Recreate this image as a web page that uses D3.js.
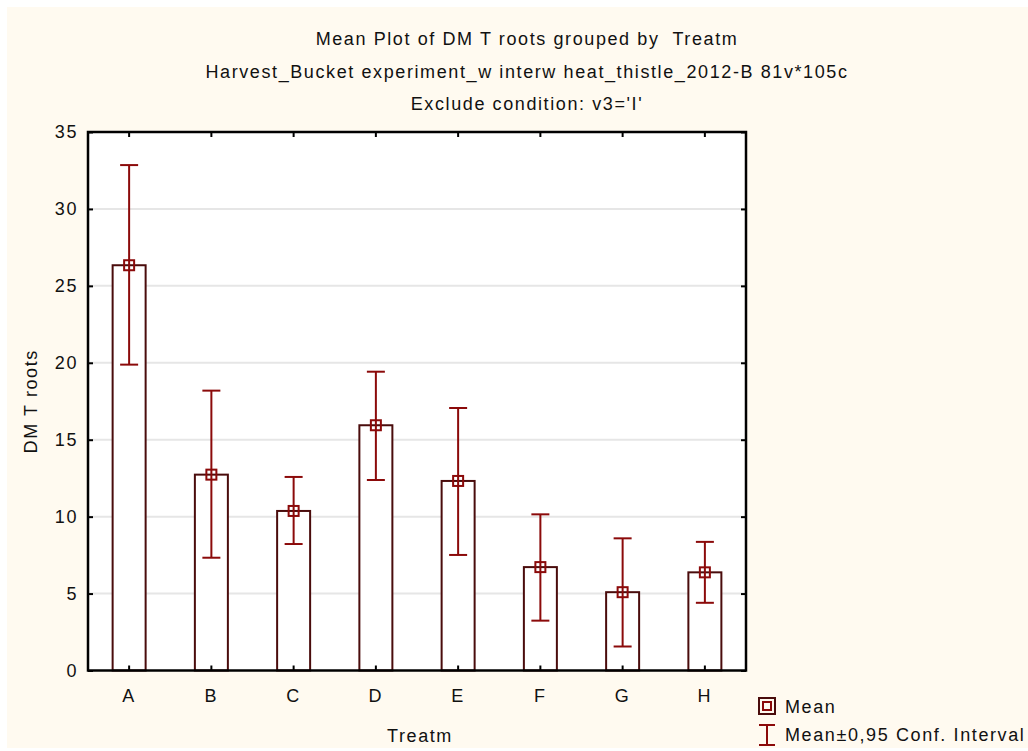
<!DOCTYPE html>
<html>
<head>
<meta charset="utf-8">
<script src="https://cdn.jsdelivr.net/npm/d3@7"></script>
<style>
  body { margin: 0; background: #ffffff; }
  text { font-family: "Liberation Sans", Arial, sans-serif; fill: #111; letter-spacing: 1.6px; }
</style>
</head>
<body>
<div id="chart"></div>
<script>
// values
const treatments = ["A", "B", "C", "D", "E", "F", "G", "H"];
const means = [26.34, 12.73, 10.37, 15.94, 12.32, 6.72, 5.09, 6.38];
const upperCI = [32.85, 18.19, 12.58, 19.42, 17.06, 10.15, 8.59, 8.36];
const lowerCI = [19.88, 7.33, 8.22, 12.38, 7.51, 3.24, 1.56, 4.40];
const yTicks = [0, 5, 10, 15, 20, 25, 30, 35];
const titleLines = [
  "Mean Plot of DM T roots grouped by  Treatm",
  "Harvest_Bucket experiment_w interw heat_thistle_2012-B 81v*105c",
  "Exclude condition: v3='I'"
];

const width = 1028, height = 751;
const margin = {top: 132, right: 282, bottom: 80.5, left: 88};
const fs = 18;

const barColor = "#4a0c0c";
const errColor = "#8b0a0a";

const svg = d3.select("#chart").append("svg")
  .attr("width", width).attr("height", height);

svg.append("rect").attr("x", 7).attr("y", 7)
  .attr("width", width - 7).attr("height", 741)
  .attr("fill", "#fffaf0");

const x = d3.scaleBand().domain(treatments)
  .range([margin.left, width - margin.right]);
const y = d3.scaleLinear().domain([0, 35])
  .range([height - margin.bottom, margin.top]);

// plot area
svg.append("rect")
  .attr("x", margin.left).attr("y", margin.top)
  .attr("width", x.range()[1] - x.range()[0])
  .attr("height", y(0) - y(35))
  .attr("fill", "#fff");

// grid
svg.append("g").selectAll("line").data(yTicks.slice(1, -1)).join("line")
  .attr("x1", x.range()[0]).attr("x2", x.range()[1])
  .attr("y1", d => y(d)).attr("y2", d => y(d))
  .attr("stroke", "#e6e6e6").attr("stroke-width", 2);

const data = treatments.map((t, i) => ({t, m: means[i], hi: upperCI[i], lo: lowerCI[i]}));
const bw = 33;

// bars
svg.append("g").selectAll("rect").data(data).join("rect")
  .attr("x", d => x(d.t) + x.bandwidth() / 2 - bw / 2)
  .attr("y", d => y(d.m))
  .attr("width", bw)
  .attr("height", d => y(0) - y(d.m))
  .attr("fill", "#fff")
  .attr("stroke", barColor).attr("stroke-width", 2);

// error bars
const eg = svg.append("g").attr("stroke", errColor).attr("stroke-width", 2);
data.forEach(d => {
  const cx = x(d.t) + x.bandwidth() / 2;
  eg.append("line").attr("x1", cx).attr("x2", cx).attr("y1", y(d.hi)).attr("y2", y(d.lo));
  [d.hi, d.lo].forEach(v => {
    eg.append("line").attr("x1", cx - 9).attr("x2", cx + 9).attr("y1", y(v)).attr("y2", y(v));
  });
  eg.append("rect").attr("x", cx - 5).attr("y", y(d.m) - 5)
    .attr("width", 10).attr("height", 10).attr("fill", "none");
});

// axes (ticks pointing inwards)
const plotW = x.range()[1] - x.range()[0];
const yAxisL = d3.axisLeft(y).tickValues(yTicks).tickSizeInner(-5).tickSizeOuter(0).tickPadding(10);
const yAxisR = d3.axisRight(y).tickValues(yTicks).tickSizeInner(-5).tickSizeOuter(0).tickFormat("");
const xAxisB = d3.axisBottom(x).tickSizeInner(-5).tickSizeOuter(0).tickPadding(19);
const xAxisT = d3.axisTop(x).tickSizeInner(-5).tickSizeOuter(0).tickFormat("");

function styleAxis(g) {
  g.select(".domain").remove();
  g.selectAll(".tick line").attr("stroke", "#000").attr("stroke-width", 2);
  g.selectAll(".tick text").attr("font-size", fs).attr("fill", "#111")
    .attr("font-family", "'Liberation Sans', Arial, sans-serif");
}
svg.append("g").attr("transform", `translate(${margin.left},0)`).call(yAxisL).call(styleAxis);
svg.append("g").attr("transform", `translate(${x.range()[1]},0)`).call(yAxisR).call(styleAxis);
svg.append("g").attr("transform", `translate(0,${y(0)})`).call(xAxisB).call(styleAxis);
svg.append("g").attr("transform", `translate(0,${y(35)})`).call(xAxisT).call(styleAxis);

// frame
svg.append("rect")
  .attr("x", margin.left).attr("y", margin.top)
  .attr("width", plotW).attr("height", y(0) - y(35))
  .attr("fill", "none").attr("stroke", "#000").attr("stroke-width", 2.5);

// titles
svg.append("g").selectAll("text").data(titleLines).join("text")
  .attr("x", 527).attr("y", (d, i) => 45 + i * 32.5)
  .attr("text-anchor", "middle").attr("font-size", fs)
  .style("white-space", "pre").attr("xml:space", "preserve")
  .text(d => d);

// axis titles
svg.append("text").attr("x", 420).attr("y", 742)
  .attr("text-anchor", "middle").attr("font-size", fs).text("Treatm");
svg.append("text")
  .attr("transform", `translate(37,${(y(0) + y(35)) / 2}) rotate(-90)`)
  .attr("text-anchor", "middle").attr("font-size", fs).text("DM T roots");

// legend
const lg = svg.append("g").attr("transform", "translate(767,0)");
lg.append("rect").attr("x", -8).attr("y", 698).attr("width", 16).attr("height", 16)
  .attr("fill", "none").attr("stroke", barColor).attr("stroke-width", 2);
lg.append("rect").attr("x", -4).attr("y", 702).attr("width", 8).attr("height", 8)
  .attr("fill", "none").attr("stroke", errColor).attr("stroke-width", 2);
lg.append("text").attr("x", 18).attr("y", 713).attr("font-size", fs).text("Mean");
const eb = lg.append("g").attr("stroke", errColor).attr("stroke-width", 2);
eb.append("line").attr("x1", 0).attr("x2", 0).attr("y1", 725).attr("y2", 745);
eb.append("line").attr("x1", -8).attr("x2", 8).attr("y1", 725).attr("y2", 725);
eb.append("line").attr("x1", -8).attr("x2", 8).attr("y1", 745).attr("y2", 745);
lg.append("text").attr("x", 18).attr("y", 741).attr("font-size", fs).text("Mean±0,95 Conf. Interval");
</script>
</body>
</html>
